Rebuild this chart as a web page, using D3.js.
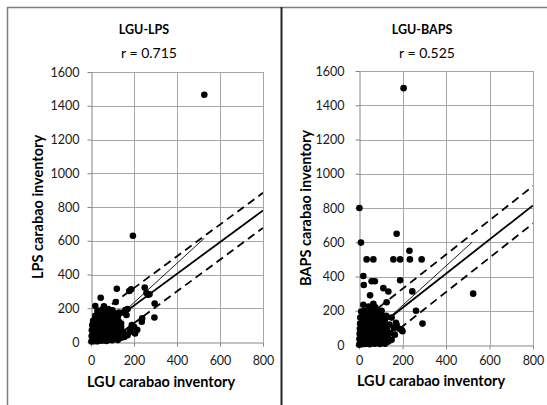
<!DOCTYPE html>
<html>
<head>
<meta charset="utf-8">
<script src="https://cdn.jsdelivr.net/npm/d3@7/dist/d3.min.js"></script>
<style>
  body { margin: 0; background: #fff; }
  svg { display: block; font-family: Lato, "Open Sans", sans-serif; }
</style>
</head>
<body>
<div id="chart"></div>
<script>
// Tick values (shared by both panels)
const xTicks = [0, 200, 400, 600, 800];
const yTicks = [0, 200, 400, 600, 800, 1000, 1200, 1400, 1600];

const titles = ["LGU-LPS", "LGU-BAPS"];
const rLabels = ["r = 0.715", "r = 0.525"];
const yLabels = ["LPS carabao inventory", "BAPS carabao inventory"];
const xLabel = "LGU carabao inventory";

// LGU vs LPS inventory
const lpsPoints = [
  [527,1465],[195,630],[45,262],[20,213],[60,212],[115,237],[120,315],[178,302],[187,312],
  [250,322],[258,290],[266,280],[272,283],[296,228],[295,145],[238,140],[236,120],[215,72],
  [205,50],[200,90],[180,60],[150,175],[160,190],[170,195],[140,110],[165,160],[185,80],[190,100],
  [2,3],[8,10],[15,5],[22,12],[30,4],[40,15],[50,8],[60,18],[72,6],[85,14],[98,10],[110,20],
  [125,12],[140,25],[155,30],[170,40],
  [3,35],[12,45],[25,30],[35,50],[48,38],[58,48],[70,32],[82,45],[95,40],[108,50],[120,42],
  [135,55],[150,60],
  [4,70],[14,62],[26,78],[38,65],[50,80],[62,68],[75,76],[88,62],[100,80],[112,70],[125,85],[140,90],
  [6,100],[18,92],[30,108],[42,95],[55,110],[68,98],[80,112],[92,100],[105,115],[118,105],[130,120],
  [10,125],[22,135],[35,122],[48,140],[60,128],[72,142],[85,130],[98,145],[110,135],[125,150],
  [20,155],[32,165],[45,152],[58,170],[70,160],[82,172],[95,158],[108,170],
  [30,185],[50,190],[65,182],[80,195],[100,188],[130,175]
];

// LGU vs BAPS inventory
const bapsPoints = [
  [205,1500],[2,800],[9,598],[173,650],[525,300],[35,500],[66,500],[158,500],[189,500],[234,500],
  [288,500],[232,550],[20,403],[22,350],[58,372],[73,372],[112,332],[135,312],[189,378],[245,313],
  [262,200],[292,125],[51,290],[20,235],[66,240],[104,200],[127,250],[173,117],[196,88],[185,95],
  [170,130],[150,160],[200,80],[160,100],[140,120],
  [1,2],[6,10],[14,4],[22,14],[30,6],[40,16],[50,5],[60,15],[72,8],[84,18],[96,6],[108,14],
  [120,8],[135,20],[150,30],[165,60],
  [2,35],[10,45],[20,30],[30,48],[42,36],[54,50],[66,38],[78,48],[90,35],[102,50],[115,40],
  [128,55],[145,70],
  [3,65],[12,78],[24,62],[36,80],[48,66],[60,78],[72,64],[85,80],[98,68],[110,80],[122,72],
  [4,95],[14,108],[26,92],[38,110],[50,96],[62,108],[74,94],[86,110],[100,100],[115,112],[128,100],
  [5,125],[16,138],[28,122],[40,140],[52,126],[64,140],[76,128],[90,140],[104,130],[118,145],
  [6,160],[18,170],[30,155],[42,175],[55,160],[68,178],[80,162],[94,175],[108,165],[125,170],
  [10,195],[25,200],[40,190],[55,210],[70,195],[85,205],[100,190],[45,225],[75,220]
];

// fitted line, upper / lower bands, thin reference line: [x0, y0, x1, y1]
const lpsFit   = [0, 28, 800, 780];
const lpsUpper = [0, 132, 800, 884];
const lpsLower = [0, -76, 800, 676];
const lpsRef   = [0, 0, 527, 615];

const bapsFit   = [0, 18, 800, 815];
const bapsUpper = [0, 128, 800, 928];
const bapsLower = [0, -92, 800, 710];
const bapsRef   = [0, 0, 520, 600];

const W = 547, H = 405;

const svg = d3.select("#chart").append("svg")
  .attr("width", W)
  .attr("height", H);

// panel frame
svg.append("line").attr("x1", 7).attr("x2", W).attr("y1", 7.5).attr("y2", 7.5)
  .attr("stroke", "#808080").attr("stroke-width", 1.5);
svg.append("line").attr("x1", 7.5).attr("x2", 7.5).attr("y1", 7).attr("y2", H)
  .attr("stroke", "#808080").attr("stroke-width", 1.5);
svg.append("line").attr("x1", 281.5).attr("x2", 281.5).attr("y1", 7).attr("y2", H)
  .attr("stroke", "#262626").attr("stroke-width", 2);

const panels = [
  {
    title: titles[0], r: rLabels[0], yLabel: yLabels[0],
    points: lpsPoints, lines: [lpsFit, lpsUpper, lpsLower, lpsRef],
    left: 91, right: 263, top: 72, bottom: 342, yPad: 8, xPad: 10,
    titleX: 144, yLabelX: 38, xLabelX: 161, xLabelY: 387
  },
  {
    title: titles[1], r: rLabels[1], yLabel: yLabels[1],
    points: bapsPoints, lines: [bapsFit, bapsUpper, bapsLower, bapsRef],
    left: 359, right: 533, top: 71, bottom: 345, yPad: 11, xPad: 7,
    titleX: 422, yLabelX: 306, xLabelX: 431, xLabelY: 386
  }
];

panels.forEach((p, i) => drawPanel(p, i));

function drawPanel(p, idx) {
  const x = d3.scaleLinear().domain([0, 800]).range([p.left, p.right]);
  const y = d3.scaleLinear().domain([0, 1600]).range([p.bottom, p.top]);

  const g = svg.append("g");

  // grid
  g.append("g")
    .selectAll("line")
    .data(xTicks.slice(1))
    .join("line")
    .attr("x1", d => Math.round(x(d)) + 0.5).attr("x2", d => Math.round(x(d)) + 0.5)
    .attr("y1", p.top).attr("y2", p.bottom)
    .attr("stroke", "#a6a6a6").attr("stroke-width", 1);

  g.append("g")
    .selectAll("line")
    .data(yTicks.slice(1))
    .join("line")
    .attr("y1", d => Math.round(y(d)) + 0.5).attr("y2", d => Math.round(y(d)) + 0.5)
    .attr("x1", p.left).attr("x2", p.right)
    .attr("stroke", "#a6a6a6").attr("stroke-width", 1);

  // axes
  const fmt = d3.format("d");
  const yAxis = g.append("g")
    .attr("transform", `translate(${Math.round(p.left) + 0.5},0)`)
    .call(d3.axisLeft(y).tickValues(yTicks).tickFormat(fmt)
      .tickSize(4).tickPadding(p.yPad).tickSizeOuter(0));
  const xAxis = g.append("g")
    .attr("transform", `translate(0,${Math.round(p.bottom) + 0.5})`)
    .call(d3.axisBottom(x).tickValues(xTicks).tickFormat(fmt)
      .tickSize(4).tickPadding(p.xPad).tickSizeOuter(0));

  [yAxis, xAxis].forEach(a => {
    a.select(".domain").attr("stroke", "#868686");
    a.selectAll(".tick line").attr("stroke", "#868686");
    a.selectAll(".tick text")
      .attr("fill", "#1a1a1a")
      .style("font-size", "12.5px")
      .style("font-family", "Lato, 'Open Sans', sans-serif");
  });

  // lines, clipped to plot area
  const clipId = "clip" + idx;
  svg.append("clipPath").attr("id", clipId)
    .append("rect")
    .attr("x", p.left).attr("y", p.top)
    .attr("width", p.right - p.left).attr("height", p.bottom - p.top);

  const lg = g.append("g").attr("clip-path", `url(#${clipId})`);
  const styles = [
    { w: 1.8, dash: null },
    { w: 1.8, dash: "8,5" },
    { w: 1.8, dash: "8,5" },
    { w: 0.9, dash: null }
  ];
  p.lines.forEach((l, k) => {
    lg.append("line")
      .attr("x1", x(l[0])).attr("y1", y(l[1]))
      .attr("x2", x(l[2])).attr("y2", y(l[3]))
      .attr("stroke", "#000")
      .attr("stroke-width", styles[k].w)
      .attr("stroke-dasharray", styles[k].dash);
  });

  // points
  g.append("g")
    .selectAll("circle")
    .data(p.points)
    .join("circle")
    .attr("cx", d => x(d[0]))
    .attr("cy", d => y(d[1]))
    .attr("r", 3.3)
    .attr("fill", "#000");

  // texts
  g.append("text")
    .attr("x", p.titleX).attr("y", 34)
    .attr("text-anchor", "middle")
    .style("font-size", "12.5px").style("font-weight", "700")
    .text(p.title);

  g.append("text")
    .attr("x", p.titleX + 5).attr("y", 58)
    .attr("text-anchor", "middle")
    .style("font-size", "14px")
    .text(p.r);

  g.append("text")
    .attr("transform", `translate(${p.yLabelX},${(p.top + p.bottom) / 2}) rotate(-90)`)
    .attr("text-anchor", "middle")
    .attr("dy", "0.35em")
    .style("font-size", "14.5px").style("font-weight", "700")
    .text(p.yLabel);

  g.append("text")
    .attr("x", p.xLabelX).attr("y", p.xLabelY)
    .attr("text-anchor", "middle")
    .style("font-size", "14.5px").style("font-weight", "700")
    .text(xLabel);
}
</script>
</body>
</html>
